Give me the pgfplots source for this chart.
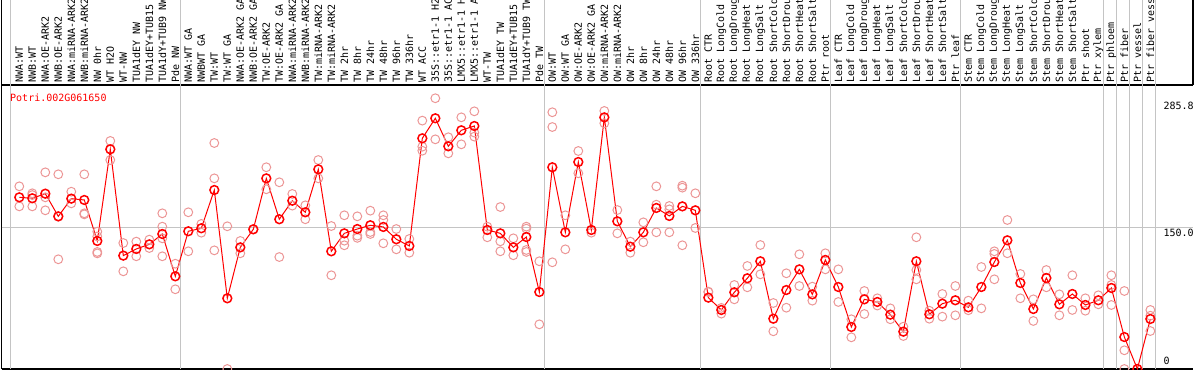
\documentclass[border=0pt]{standalone}
\usepackage{fontspec}
\usepackage{pgfplots}
\usepackage{pgfplotstable}
\pgfplotsset{compat=1.18}
\newfontfamily\mono{DejaVu Sans Mono}
\definecolor{rep}{RGB}{236,150,150}
\definecolor{gridc}{RGB}{196,196,196}

\pgfplotstableread{
x y
1 182.6
2 181.6
3 186.5
4 162.4
5 181.2
6 179.8
7 136.2
8 233.7
9 120.6
10 127.7
11 132.6
12 143.6
13 98.6
14 146.5
15 149.7
16 190.4
17 75.2
18 129.4
19 148.6
20 202.8
21 159.3
22 179.0
23 166.7
24 212.4
25 125.2
26 144.3
27 148.9
28 152.9
29 151.1
30 138.0
31 130.9
32 245.4
33 266.7
34 236.9
35 253.9
36 258.5
37 147.9
38 144.3
39 129.4
40 140.4
41 81.9
42 214.6
43 145.4
44 220.2
45 147.9
46 267.7
47 157.1
48 130.1
49 145.4
50 171.3
51 162.8
52 173.0
53 168.8
54 75.9
55 62.8
56 81.6
57 96.5
58 114.6
59 53.5
60 84.0
61 106.0
62 79.4
63 116.0
64 87.2
65 44.7
66 74.1
67 71.3
68 57.8
69 39.7
70 114.6
71 58.2
72 69.5
73 73.1
74 65.6
75 87.2
76 113.8
77 136.9
78 91.5
79 63.8
80 96.8
81 68.8
82 79.8
83 68.1
84 73.1
85 86.2
86 34.0
87 0.0
88 53.2
}\meantable

\pgfplotstableread{
x y
1 194.3
1 173
2 186.9
2 185
2 173
3 209.2
3 182.6
3 168.8
4 207.1
4 116.7
4 162
5 188.6
5 176.2
6 207.1
6 165.6
6 164.5
7 146.1
7 141
7 124.5
7 123
8 242.6
8 222.3
9 134
9 103.9
10 135.5
10 119.9
11 137.6
11 128.7
12 165.6
12 151.4
12 139
12 119.9
13 112
13 84.8
14 166.7
14 125.2
15 154.3
15 145
16 240.4
16 202.8
16 126.2
17 151.8
17 0
18 136.2
18 123.1
19 148.6
20 214.6
20 191.2
21 198.6
21 119.1
22 186.2
22 173.8
23 174.1
23 159.3
24 222.3
24 202.8
25 152.1
25 99.7
26 163.5
26 136.5
26 131.6
27 162.4
27 141.8
27 139.5
28 168.4
28 145.7
28 143.6
29 163.5
29 158.5
29 133.7
30 148.9
30 127.3
31 138.3
31 123.7
32 264.2
32 236.5
32 232.2
33 288
33 244.3
34 246.5
34 229.4
35 267.7
35 239
36 274.1
36 251.5
36 247.2
37 151.4
37 140.1
38 172.3
38 135.8
38 125.2
39 139
39 121
40 151.4
40 149.3
40 126.6
40 124.5
41 114.6
41 47.5
42 273.1
42 257.4
42 113.5
43 163.5
43 127.3
44 231.9
44 208.2
45 145
46 274.5
46 261.4
47 169.1
47 144.3
48 135.5
48 123.7
49 156
49 134.8
50 194.3
50 174.8
50 145.4
51 173.4
51 169.8
51 145.4
52 195
52 192.9
52 131.6
53 186.9
53 150
54 82.3
54 81.8
55 65
55 58.9
56 89.4
56 74.1
57 109.6
57 86.9
58 131.9
58 100.7
59 70.2
59 40.1
60 101.8
60 65.2
61 122
61 88.3
62 87.6
62 72.7
63 123.1
63 106
64 106
64 71.3
65 52.9
65 33.7
66 83
66 58.5
67 75.2
67 67.5
68 64.5
68 52.9
69 45
69 35.1
70 140.1
70 105.3
70 95.4
71 62
71 53.5
72 79.8
72 55.7
73 88.3
73 57.1
74 72.7
74 62.5
75 108.5
75 64.5
76 125.2
76 122.4
76 95.4
77 158.5
77 123.1
78 101.1
78 75.2
79 74.1
79 51.1
80 105.3
80 86.9
81 79.4
81 57.1
82 99.7
82 62.8
83 75.2
83 62
84 78.4
84 68.8
85 99.7
85 89.4
85 68.1
86 83
86 19.9
86 0
88 62.8
88 56.7
88 40.4
}\reptable

\begin{document}
\begin{tikzpicture}
\useasboundingbox (0,0) rectangle (1194bp,370bp);
\begin{axis}[
  at={(1.5bp,1bp)}, anchor=south west,
  scale only axis, width=1191.5bp, height=284bp,
  xmin=-0.369, xmax=91.28, ymin=0, ymax=302.1,
  clip=false,
  axis line style={line width=1.4bp, black},
  axis y line*=left,
  axis x line*=box,
  xtick={1,...,88},
  xticklabels={NWA:WT,NWB:WT,NWA:OE-ARK2,NWB:OE-ARK2,NWA:miRNA-ARK2,NWB:miRNA-ARK2,NW 0hr,WT H2O,WT-NW,TUA1dEY NW,TUA1dEY+TUB15,TUA1dY+TUB9 NW,Pde NW,
    NWA:WT GA,NWBWT GA,TW:WT,TW:WT GA,NWA:OE-ARK2 GA,NWB:OE-ARK2 GA,TW:OE-ARK2,TW:OE-ARK2 GA,NWA:miRNA-ARK2,NWB:miRNA-ARK2,TW:miRNA-ARK2,TW:miRNA-ARK2,TW 2hr,TW 8hr,TW 24hr,TW 48hr,TW 96hr,TW 336hr,WT ACC,35S::etr1-1 H2,35S::etr1-1 AC,LMX5::etr1-1 H,LMX5::etr1-1 A,WT-TW,TUA1dEY TW,TUA1dEY+TUB15,TUA1dY+TUB9 TW,Pde TW,
    OW:WT,OW:WT GA,OW:OE-ARK2,OW:OE-ARK2 GA,OW:miRNA-ARK2,OW:miRNA-ARK2,OW 2hr,OW 8hr,OW 24hr,OW 48hr,OW 96hr,OW 336hr,
    Root CTR,Root LongCold,Root LongDroug,Root LongHeat,Root LongSalt,Root ShortCold,Root ShortDrou,Root ShortHeat,Root ShortSalt,Ptr root,
    Leaf CTR,Leaf LongCold,Leaf LongDroug,Leaf LongHeat,Leaf LongSalt,Leaf ShortCold,Leaf ShortDrou,Leaf ShortHeat,Leaf ShortSalt,Ptr leaf,
    Stem CTR,Stem LongCold,Stem LongDroug,Stem LongHeat,Stem LongSalt,Stem ShortCold,Stem ShortDrou,Stem ShortHeat,Stem ShortSalt,Ptr shoot,Ptr xylem,
    Ptr phloem,Ptr fiber,Ptr vessel,Ptr fiber vess},
  xticklabel pos=upper,
  xticklabel style={rotate=90, anchor=west, inner sep=0pt, font=\mono\fontsize{10bp}{12bp}\selectfont},
  xticklabel shift=2bp,
  major tick length=0pt,
  tick style={draw=none},
  ytick=\empty,
  extra x ticks={0.31,13.385,41.385,53.385,63.385,73.385,84.385,85.385,86.385,87.385,88.385},
  extra x tick labels={},
  extra tick style={grid=major, major grid style={gridc, line width=1bp}},
]
\addplot[gridc, line width=1bp, forget plot] coordinates {(-0.369,150) (91.28,150)};
\addplot[only marks, mark=o, mark size=4.4bp, rep, mark options={line width=1bp}] table {\reptable};
\addplot[red, line width=1bp, mark=o, mark size=4.4bp, mark options={line width=1.5bp}] table {\meantable};

\coordinate (g1) at (axis cs:0.31,302.1);
\coordinate (g2) at (axis cs:13.385,302.1);
\coordinate (g3) at (axis cs:41.385,302.1);
\coordinate (g4) at (axis cs:53.385,302.1);
\coordinate (g5) at (axis cs:63.385,302.1);
\coordinate (g6) at (axis cs:73.385,302.1);
\coordinate (g7) at (axis cs:84.385,302.1);
\coordinate (g8) at (axis cs:85.385,302.1);
\coordinate (g9) at (axis cs:86.385,302.1);
\coordinate (g10) at (axis cs:87.385,302.1);
\coordinate (g11) at (axis cs:88.385,302.1);
\coordinate (gl) at (axis cs:-0.369,302.1);
\coordinate (gr) at (axis cs:91.28,302.1);

\node[anchor=north west, inner sep=0pt, text=red, font=\mono\fontsize{10bp}{12bp}\selectfont] at ([yshift=-8.3bp]axis cs:0.285,302.1) {Potri.002G061650};
\node[anchor=north west, inner sep=0pt, font=\mono\fontsize{10bp}{12bp}\selectfont] at ([yshift=-2bp]axis cs:89.0,285.8) {285.8};
\node[anchor=north west, inner sep=0pt, font=\mono\fontsize{10bp}{12bp}\selectfont] at ([yshift=-0.5bp]axis cs:89.0,150) {150.0};
\node[anchor=south west, inner sep=0pt, font=\mono\fontsize{10bp}{12bp}\selectfont] at ([yshift=4.3bp]axis cs:89.0,0) {0};
\end{axis}
\foreach \g in {g1,g2,g3,g4,g5,g6,g7,g8,g9,g10,g11}{
  \draw[gridc, line width=1bp] (\g) -- ([yshift=86bp]\g);
}
\draw[black, line width=1.4bp] (gl) -- ([yshift=86bp]gl);
\draw[black, line width=1.4bp] (gr) -- ([yshift=86bp]gr);
\end{tikzpicture}
\end{document}
